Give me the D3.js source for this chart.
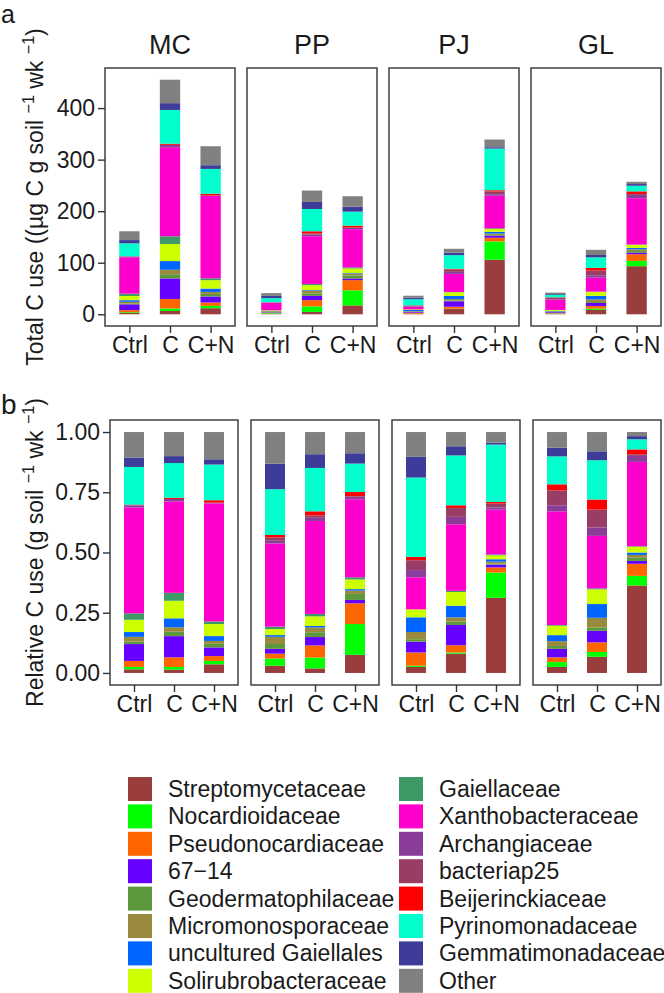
<!DOCTYPE html>
<html>
<head>
<meta charset="utf-8">
<script src="https://cdn.jsdelivr.net/npm/d3@7"></script>
<style>
  html, body { margin: 0; padding: 0; background: #fff; }
  svg { display: block; font-family: "Liberation Sans", Arial, Helvetica, sans-serif; }
</style>
</head>
<body>
<svg id="chart" width="664" height="993"></svg>
<script>
// ---------------- DATA ----------------
const facets = ["MC", "PP", "PJ", "GL"];
const treatments = ["Ctrl", "C", "C+N"];
const families = [
  "Streptomycetaceae", "Nocardioidaceae", "Pseudonocardiaceae", "67\u221214",
  "Geodermatophilaceae", "Micromonosporaceae", "uncultured Gaiellales", "Solirubrobacteraceae",
  "Gaiellaceae", "Xanthobacteraceae", "Archangiaceae", "bacteriap25",
  "Beijerinckiaceae", "Pyrinomonadaceae", "Gemmatimonadaceae", "Other"
];
const familyColors = [
  "#993D3D", "#00FF00", "#FF6600", "#6600FF",
  "#5C993D", "#998A3D", "#0066FF", "#CCFF00",
  "#3D9966", "#FF00CC", "#8A3D99", "#993D66",
  "#FF0000", "#00FFCC", "#3D3D99", "#808080"
];
// total C use per bar (µg C g soil-1 wk-1), order: MC Ctrl, MC C, MC C+N, PP ..., PJ ..., GL ...
const totalCUse = [161, 455, 326, 41, 240, 229, 36, 127, 339, 42, 125, 257];
// relative shares per family, same bar order
const streptomycetaceae    = [0.015, 0.014, 0.036, 0.030, 0.019, 0.075, 0.025, 0.080, 0.312, 0.025, 0.067, 0.363];
const nocardioidaceae      = [0.010, 0.011, 0.014, 0.030, 0.045, 0.128, 0.005, 0.005, 0.105, 0.020, 0.020, 0.040];
const pseudonocardiaceae   = [0.025, 0.040, 0.020, 0.020, 0.050, 0.086, 0.055, 0.030, 0.021, 0.020, 0.040, 0.050];
const fam67_14             = [0.070, 0.088, 0.036, 0.020, 0.035, 0.014, 0.045, 0.084, 0.012, 0.035, 0.048, 0.012];
const geodermatophilaceae  = [0.010, 0.018, 0.015, 0.020, 0.020, 0.025, 0.010, 0.014, 0.004, 0.012, 0.014, 0.013];
const micromonosporaceae   = [0.020, 0.019, 0.012, 0.030, 0.020, 0.014, 0.030, 0.018, 0.008, 0.020, 0.040, 0.012];
const unculturedGaiellales = [0.020, 0.037, 0.020, 0.007, 0.006, 0.006, 0.061, 0.048, 0.010, 0.025, 0.057, 0.010];
const solirubrobacteraceae = [0.051, 0.073, 0.050, 0.025, 0.040, 0.040, 0.033, 0.057, 0.016, 0.039, 0.061, 0.024];
const gaiellaceae          = [0.027, 0.033, 0.011, 0.010, 0.010, 0.009, 0.000, 0.005, 0.004, 0.003, 0.004, 0.002];
const xanthobacteraceae    = [0.440, 0.380, 0.490, 0.345, 0.386, 0.324, 0.133, 0.276, 0.186, 0.472, 0.218, 0.350];
const archangiaceae        = [0.008, 0.010, 0.003, 0.011, 0.013, 0.010, 0.030, 0.031, 0.009, 0.025, 0.035, 0.025];
const bacteriap25          = [0.004, 0.000, 0.000, 0.014, 0.010, 0.003, 0.041, 0.037, 0.016, 0.062, 0.074, 0.007];
const beijerinckiaceae     = [0.000, 0.005, 0.010, 0.010, 0.017, 0.017, 0.014, 0.011, 0.007, 0.025, 0.042, 0.020];
const pyrinomonadaceae     = [0.156, 0.144, 0.148, 0.190, 0.180, 0.118, 0.329, 0.207, 0.238, 0.116, 0.163, 0.042];
const gemmatimonadaceae    = [0.039, 0.029, 0.022, 0.106, 0.057, 0.043, 0.086, 0.038, 0.008, 0.036, 0.037, 0.013];
const other                = [0.106, 0.100, 0.113, 0.131, 0.092, 0.088, 0.103, 0.059, 0.044, 0.065, 0.080, 0.017];
const shareSeries = [
  streptomycetaceae, nocardioidaceae, pseudonocardiaceae, fam67_14,
  geodermatophilaceae, micromonosporaceae, unculturedGaiellales, solirubrobacteraceae,
  gaiellaceae, xanthobacteraceae, archangiaceae, bacteriap25,
  beijerinckiaceae, pyrinomonadaceae, gemmatimonadaceae, other
];
const ticksA = [0, 100, 200, 300, 400];
const ticksB = [0, 0.25, 0.5, 0.75, 1.0];

// ---------------- BUILD ROWS ----------------
const rowsRel = [], rowsAbs = [];
facets.forEach((f, fi) => treatments.forEach((t, ti) => {
  const i = fi * 3 + ti;
  const sum = d3.sum(shareSeries, s => s[i]);
  const rr = { facet: f, treatment: t }, ra = { facet: f, treatment: t };
  families.forEach((fam, k) => {
    rr[fam] = shareSeries[k][i] / sum;
    ra[fam] = rr[fam] * totalCUse[i];
  });
  rowsRel.push(rr); rowsAbs.push(ra);
}));
const stack = d3.stack().keys(families);
const stackedAbs = stack(rowsAbs);
const stackedRel = stack(rowsRel);
const color = d3.scaleOrdinal().domain(families).range(familyColors);

// ---------------- DRAW ----------------
const svg = d3.select("#chart");
const FS = 23, INK = "#1a1a1a";

function drawPanel(cfg) {
  const y = d3.scaleLinear().domain(cfg.domain).range([cfg.bottom, cfg.top]);
  facets.forEach((f, fi) => {
    const left = cfg.lefts[fi], right = left + cfg.width;
    const x = d3.scalePoint().domain(treatments).range([left, right]).padding(0.6);
    const bw = x.step() * 0.5;
    const g = svg.append("g");
    cfg.stacked.forEach(layer => {
      g.selectAll(null)
        .data(layer.filter(d => d.data.facet === f))
        .join("rect")
        .attr("x", d => x(d.data.treatment) - bw / 2)
        .attr("width", bw)
        .attr("y", d => y(d[1]))
        .attr("height", d => Math.max(0, y(d[0]) - y(d[1])))
        .attr("fill", color(layer.key));
    });
    // border
    g.append("rect").attr("x", left).attr("y", cfg.top)
      .attr("width", cfg.width).attr("height", cfg.bottom - cfg.top)
      .attr("fill", "none").attr("stroke", "#333").attr("stroke-width", 1.4);
    // x axis
    const xa = svg.append("g").attr("transform", `translate(0,${cfg.bottom})`)
      .call(d3.axisBottom(x).tickSize(7).tickPadding(4));
    xa.select(".domain").remove();
    xa.selectAll("line").attr("stroke", "#333").attr("stroke-width", 1.4);
    xa.selectAll("text").attr("font-size", FS).attr("fill", INK).attr("font-family", "Liberation Sans, Arial, sans-serif");
    // strip
    if (cfg.strip) {
      svg.append("text").attr("x", (left + right) / 2).attr("y", cfg.top - 14)
        .attr("text-anchor", "middle").attr("font-size", 27).attr("fill", INK).text(f);
    }
  });
  // y axis on first facet
  const ya = svg.append("g").attr("transform", `translate(${cfg.lefts[0]},0)`)
    .call(d3.axisLeft(y).tickValues(cfg.ticks).tickFormat(cfg.fmt).tickSize(7).tickPadding(3));
  ya.select(".domain").remove();
  ya.selectAll("line").attr("stroke", "#333").attr("stroke-width", 1.4);
  ya.selectAll("text").attr("font-size", FS).attr("fill", INK).attr("font-family", "Liberation Sans, Arial, sans-serif");
  // y title
  const cy = (cfg.top + cfg.bottom) / 2;
  const tt = svg.append("text").attr("transform", `translate(43,${cy}) rotate(-90)`)
    .attr("text-anchor", "middle").attr("font-size", FS).attr("fill", INK);
  cfg.title.forEach(p => {
    const ts = tt.append("tspan").text(p.t);
    if (p.sup) ts.attr("font-size", FS * 0.7).attr("dy", -9);
    if (p.down) ts.attr("dy", 9);
  });
  // panel letter
  svg.append("text").attr("x", 1).attr("y", cfg.letterY).attr("font-size", cfg.letterSize).attr("fill", INK).text(cfg.letter);
}

drawPanel({
  stacked: stackedAbs, top: 68, bottom: 326, lefts: [105, 247, 389, 531], width: 130,
  domain: [-22.75, 477.75], ticks: ticksA, fmt: d3.format("d"), strip: true,
  letter: "a", letterY: 23, letterSize: 25,
  title: [{ t: "Total C use ((\u00b5g C g soil " }, { t: "\u22121", sup: true }, { t: " wk ", down: true },
          { t: "\u22121", sup: true }, { t: ")", down: true }]
});
drawPanel({
  stacked: stackedRel, top: 420, bottom: 685, lefts: [110, 251, 392, 533], width: 128,
  domain: [-0.05, 1.05], ticks: ticksB, fmt: d3.format(".2f"), strip: false,
  letter: "b", letterY: 414, letterSize: 28,
  title: [{ t: "Relative C use (g soil " }, { t: "\u22121", sup: true }, { t: " wk ", down: true },
          { t: "\u22121", sup: true }, { t: ")", down: true }]
});

// ---------------- LEGEND ----------------
const legend = svg.append("g");
const legX = [128, 399], legY0 = 777, pitch = 27.4, key = 24;
families.forEach((fam, k) => {
  const col = Math.floor(k / 8), row = k % 8;
  const gx = legX[col], gy = legY0 + row * pitch;
  legend.append("rect").attr("x", gx).attr("y", gy).attr("width", key).attr("height", key)
    .attr("fill", color(fam));
  legend.append("text").attr("x", gx + 40).attr("y", gy + key / 2 + 8)
    .attr("font-size", FS).attr("fill", INK).text(fam);
});
</script>
</body>
</html>
